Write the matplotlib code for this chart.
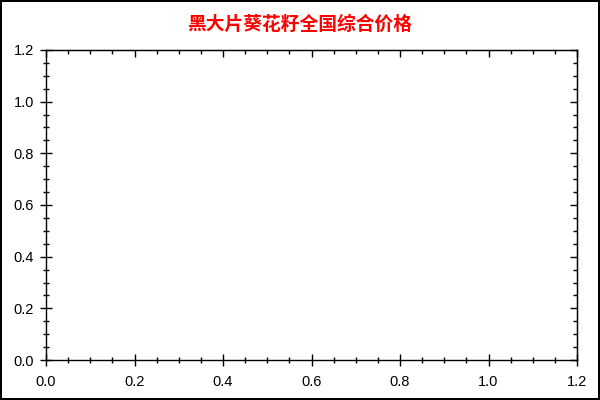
import matplotlib
matplotlib.use("Agg")
import matplotlib.pyplot as plt
from matplotlib.ticker import MultipleLocator

# 图表没有数据
title = "黑大片葵花籽全国综合价格"
x_values = []
y_values = []
x_range = (0.0, 1.2)
y_range = (0.0, 1.2)

plt.rcParams["font.family"] = ["Liberation Sans", "Noto Sans CJK SC", "DejaVu Sans"]

fig = plt.figure(figsize=(6, 4), dpi=100)
fig.patch.set_edgecolor("black")
fig.patch.set_linewidth(1.5)
ax = fig.add_axes([46 / 600, 40 / 400, 531 / 600, 310 / 400])

ax.plot(x_values, y_values, color="#1f77b4")
ax.set_xlim(*x_range)
ax.set_ylim(*y_range)

for axis in (ax.xaxis, ax.yaxis):
    axis.set_major_locator(MultipleLocator(0.2))
    axis.set_minor_locator(MultipleLocator(0.05))

ax.xaxis.set_major_formatter(lambda v, p: f"{v:.1f}")
ax.yaxis.set_major_formatter(lambda v, p: f"{v:.1f}")

ax.tick_params(which="major", direction="inout", length=9, width=1, labelsize=10.5,
               colors="black", top=False, right=False)
ax.tick_params(which="minor", direction="inout", length=5, width=1,
               top=False, right=False)
ax.tick_params(axis="x", pad=6)
ax.tick_params(axis="y", pad=4)

# 上边和右边只有朝内的刻度
top = ax.secondary_xaxis("top")
right = ax.secondary_yaxis("right")
for sec, axis in ((top, top.xaxis), (right, right.yaxis)):
    axis.set_major_locator(MultipleLocator(0.2))
    axis.set_minor_locator(MultipleLocator(0.05))
    sec.tick_params(which="major", direction="in", length=5, width=1, labelsize=0)
    sec.tick_params(which="minor", direction="in", length=3, width=1)
    axis.set_major_formatter(lambda v, p: "")

for s in ax.spines.values():
    s.set_linewidth(1)

fig.text(0.5, 1 - 24 / 400, title, ha="center", va="center", color="red",
         fontsize=13.5, fontweight="bold", family=["Noto Sans CJK SC", "DejaVu Sans"])

fig.savefig("out.png", dpi=100)
